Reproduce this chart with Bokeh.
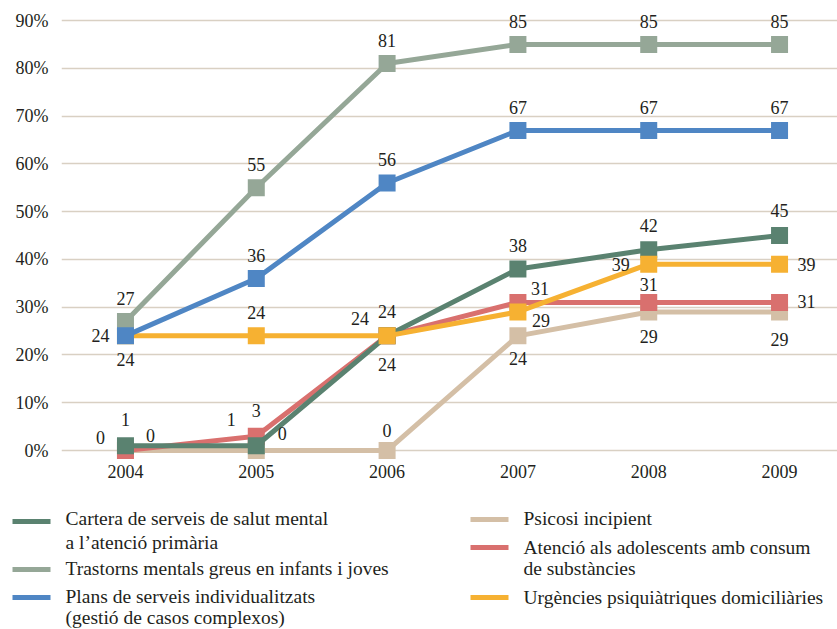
from bokeh.plotting import figure
from bokeh.layouts import column
from bokeh.models import Range1d, FixedTicker
from bokeh.core.properties import value
from bokeh.embed import file_html
from bokeh.resources import INLINE

# --- data -----------------------------------------------------------------
years = [2004, 2005, 2006, 2007, 2008, 2009]
y_ticks = [0, 10, 20, 30, 40, 50, 60, 70, 80, 90]

cartera = [1, 1, 24, 38, 42, 45]
trastorns = [27, 55, 81, 85, 85, 85]
plans = [24, 36, 56, 67, 67, 67]
psicosi = [0, 0, 0, 24, 29, 29]
adolescents = [0, 3, 24, 31, 31, 31]
urgencies = [24, 24, 24, 29, 39, 39]

names = {
    "cartera": ["Cartera de serveis de salut mental", "a l\u2019atenció primària"],
    "trastorns": ["Trastorns mentals greus en infants i joves"],
    "plans": ["Plans de serveis individualitzats", "(gestió de casos complexos)"],
    "psicosi": ["Psicosi incipient"],
    "adolescents": ["Atenció als adolescents amb consum", "de substàncies"],
    "urgencies": ["Urgències psiquiàtriques domiciliàries"],
}

# --- styling ----------------------------------------------------------------
FONT = value("Liberation Serif")
TEXT_COLOR = "#231f20"
colors = {
    "cartera": "#5a8270",
    "trastorns": "#95a797",
    "plans": "#4f86c4",
    "psicosi": "#d4bfa6",
    "adolescents": "#d9706e",
    "urgencies": "#f6b132",
}

# value-label offsets in screen pixels (dx, dy; dy positive = downward)
A, B, L, R = (0, -23), (0, 24), (-25, 0), (27, 0)
label_offsets = {
    "trastorns": [A, A, A, A, A, A],
    "plans": [L, A, A, A, A, A],
    "cartera": [(0, -26), (-25, -26), (-27, -17), A, (0, -24), (0, -25)],
    "urgencies": [B, A, (0, -24), (23, 9), (-28, 0), R],
    "adolescents": [(-25, -13), (0, -26), (0, 29), (22, -14), (0, -18), (27, -1)],
    "psicosi": [(25, -15), (26, -17), (0, -20), (0, 23), (0, 25), (0, 28)],
}

series = {
    "cartera": cartera,
    "trastorns": trastorns,
    "plans": plans,
    "psicosi": psicosi,
    "adolescents": adolescents,
    "urgencies": urgencies,
}
draw_order = ["psicosi", "adolescents", "cartera", "urgencies", "trastorns", "plans"]

# --- main chart ---------------------------------------------------------------
p = figure(
    width=837, height=490,
    x_range=Range1d(2003.511, 2009.443),
    y_range=Range1d(-2.09, 93.14),
    output_backend="svg", toolbar_location=None,
    min_border_left=61, min_border_right=0,
    min_border_top=5, min_border_bottom=30,
)
p.frame_align = False
p.outline_line_color = None
p.background_fill_color = "white"
p.border_fill_color = "white"
p.xgrid.grid_line_color = None
p.ygrid.grid_line_color = "#d9d0c3"
p.ygrid.grid_line_width = 1.6

p.yaxis.ticker = FixedTicker(ticks=y_ticks)
p.yaxis.major_label_overrides = {t: f"{t}%" for t in y_ticks}
p.xaxis.ticker = FixedTicker(ticks=years)
p.xaxis.major_label_overrides = {y: str(y) for y in years}
for ax in (p.xaxis[0], p.yaxis[0]):
    ax.axis_line_color = None
    ax.major_tick_line_color = None
    ax.minor_tick_line_color = None
    ax.major_tick_out = 0
    ax.major_tick_in = 0
    ax.major_label_text_font = "Liberation Serif"
    ax.major_label_text_font_size = "18px"
    ax.major_label_text_color = TEXT_COLOR
p.yaxis.major_label_standoff = 13
p.xaxis.major_label_standoff = 4

for key in draw_order:
    vals = series[key]
    p.line(years, vals, line_color=colors[key], line_width=5)
    p.scatter(years, vals, marker="square", size=17,
              fill_color=colors[key], line_color=None)

for key in draw_order:
    vals = series[key]
    offs = label_offsets[key]
    p.text(
        x=years, y=vals, text=[str(v) for v in vals],
        x_offset=[o[0] for o in offs], y_offset=[o[1] for o in offs],
        text_font=FONT, text_font_size="18px", text_color=TEXT_COLOR,
        text_align="center", text_baseline="middle",
    )

# --- legend ---------------------------------------------------------------------
lg = figure(
    width=837, height=139,
    x_range=Range1d(0, 837), y_range=Range1d(139, 0),
    output_backend="svg", toolbar_location=None,
    min_border=0,
)
lg.frame_align = False
lg.axis.visible = False
lg.grid.visible = False
lg.outline_line_color = None

legend_layout = [
    # key, swatch x0, swatch y, first text line y
    ("cartera", 12, 31, 28),
    ("trastorns", 12, 79, 78),
    ("plans", 12, 107, 106),
    ("psicosi", 470, 29, 28),
    ("adolescents", 470, 57, 57),
    ("urgencies", 470, 107, 107),
]
line_gap = {"cartera": 24, "plans": 21, "adolescents": 21}

for key, sx, sy, ty in legend_layout:
    lg.segment(x0=[sx], y0=[sy], x1=[sx + 38], y1=[sy],
               line_color=colors[key], line_width=5)
    lines = names[key]
    ys = [ty + i * line_gap.get(key, 0) for i in range(len(lines))]
    lg.text(x=[sx + 53] * len(lines), y=ys, text=lines,
            text_font=FONT, text_font_size="19.5px", text_color=TEXT_COLOR,
            text_align="left", text_baseline="middle")

layout = column(p, lg, spacing=0)
open("out.html", "w").write(file_html(layout, INLINE))
